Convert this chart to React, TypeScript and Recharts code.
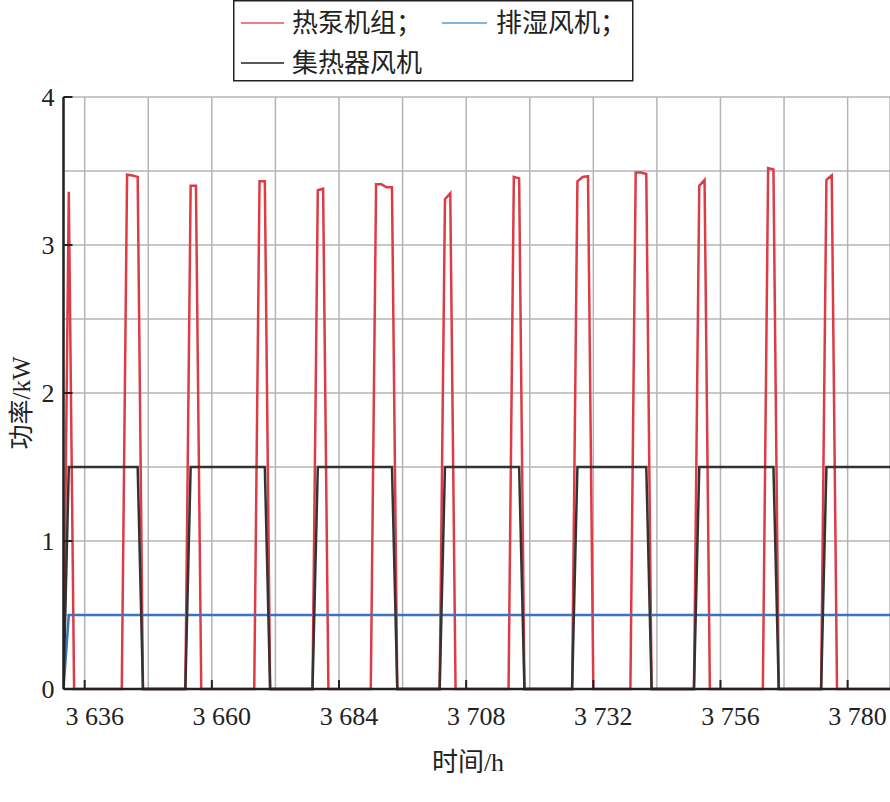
import React from 'react';
import { LineChart, Line, XAxis, YAxis, CartesianGrid, Legend } from 'recharts';

// 热泵机组 (heat pump), vertices
const pumpHours = [
  3632, 3633, 3634,
  3643, 3644, 3645, 3646, 3647,
  3655, 3656, 3657, 3658,
  3668, 3669, 3670, 3671,
  3679, 3680, 3681, 3682,
  3690, 3691, 3692, 3693, 3694, 3695,
  3703, 3704, 3705, 3706,
  3716, 3717, 3718, 3719,
  3728, 3729, 3730, 3731, 3732,
  3739, 3740, 3741, 3742, 3743,
  3751, 3752, 3753, 3754,
  3764, 3765, 3766, 3767,
  3775, 3776, 3777, 3778,
  3788,
];
const pumpKw = [
  0, 3.36, 0,
  0, 3.475, 3.47, 3.46, 0,
  0, 3.4, 3.4, 0,
  0, 3.43, 3.43, 0,
  0, 3.37, 3.38, 0,
  0, 3.41, 3.41, 3.39, 3.39, 0,
  0, 3.31, 3.35, 0,
  0, 3.46, 3.45, 0,
  0, 3.43, 3.46, 3.465, 0,
  0, 3.49, 3.49, 3.48, 0,
  0, 3.4, 3.44, 0,
  0, 3.52, 3.51, 0,
  0, 3.44, 3.47, 0,
  0,
];

// 排湿风机 (exhaust fan)
const exhaustHours = [3632, 3633, 3788];
const exhaustKw = [0, 0.5, 0.5];

// 集热器风机 (collector fan)
const collectorHours = [
  3632, 3633, 3646, 3647,
  3655, 3656, 3670, 3671,
  3679, 3680, 3694, 3695,
  3703, 3704, 3718, 3719,
  3728, 3729, 3742, 3743,
  3751, 3752, 3766, 3767,
  3775, 3776, 3788,
];
const collectorKw = [
  0, 1.5, 1.5, 0,
  0, 1.5, 1.5, 0,
  0, 1.5, 1.5, 0,
  0, 1.5, 1.5, 0,
  0, 1.5, 1.5, 0,
  0, 1.5, 1.5, 0,
  0, 1.5, 1.5,
];

const xTicks = [3636, 3648, 3660, 3672, 3684, 3696, 3708, 3720, 3732, 3744, 3756, 3768, 3780];
const xLabelled = [3636, 3660, 3684, 3708, 3732, 3756, 3780];
const yTicks = [0, 0.5, 1, 1.5, 2, 2.5, 3, 3.5, 4];
const yLabelled = [0, 1, 2, 3, 4];

const seriesNames = ['热泵机组；', '排湿风机；', '集热器风机'];
const seriesColors = ['#dc3c46', '#3f72b6', '#333333'];
const legendColors = ['#e0555c', '#5b9bd2', '#222222'];

const toRows = (hours: number[], kw: number[]) => hours.map((t, i) => ({ t, p: kw[i] }));
const pumpData = toRows(pumpHours, pumpKw);
const exhaustData = toRows(exhaustHours, exhaustKw);
const collectorData = toRows(collectorHours, collectorKw);

const serif = '"Liberation Serif", "DejaVu Serif", serif';
const cjk = '"Noto Sans CJK SC", sans-serif';

const fmt = (v: number) => {
  const s = String(v);
  return s.length > 3 ? s.slice(0, s.length - 3) + ' ' + s.slice(-3) : s;
};

const XTick = (props: any) => {
  const { x, y, payload } = props;
  if (!xLabelled.includes(payload.value)) return <g />;
  return (
    <g>
      <line x1={x} x2={x} y1={y} y2={y - 9} stroke="#222" strokeWidth={2} />
      <text x={x + 10} y={y + 36} textAnchor="middle" fontFamily={serif} fontSize={26} fill="#222">
        {fmt(payload.value)}
      </text>
    </g>
  );
};

const YTick = (props: any) => {
  const { x, y, payload } = props;
  if (!yLabelled.includes(payload.value)) return <g />;
  return (
    <g>
      <line x1={x} x2={x + 9} y1={y} y2={y} stroke="#222" strokeWidth={2} />
      <text x={x - 9} y={y + 9} textAnchor="end" fontFamily={serif} fontSize={26} fill="#222">
        {payload.value}
      </text>
    </g>
  );
};

const LegendBox = () => (
  <svg width={401} height={83} style={{ display: 'block' }}>
    <rect x={0.75} y={0.75} width={399} height={80} fill="#fff" stroke="#222" strokeWidth={1.5} />
    <line x1={8} x2={51} y1={23} y2={23} stroke={legendColors[0]} strokeWidth={1.5} />
    <text x={59} y={32} fontFamily={cjk} fontSize={26} fill="#222">{seriesNames[0]}</text>
    <line x1={209} x2={254} y1={23} y2={23} stroke={legendColors[1]} strokeWidth={1.5} />
    <text x={263} y={32} fontFamily={cjk} fontSize={26} fill="#222">{seriesNames[1]}</text>
    <line x1={8} x2={51} y1={63} y2={63} stroke={legendColors[2]} strokeWidth={1.5} />
    <text x={59} y={72} fontFamily={cjk} fontSize={26} fill="#222">{seriesNames[2]}</text>
  </svg>
);

export default function App() {
  return (
    <div style={{ position: 'absolute', left: 0, top: 0, background: '#fff' }}>
      <LineChart width={890} height={802} margin={{ top: 97, right: 0, bottom: 0, left: 0 }}>
        <CartesianGrid stroke="#b4b4b4" strokeWidth={1.5} />
        <XAxis
          type="number"
          dataKey="t"
          domain={[3632, 3788]}
          ticks={xTicks}
          interval={0}
          allowDataOverflow
          height={113}
          tickSize={0}
          tickMargin={0}
          tick={<XTick />}
          axisLine={{ stroke: '#222', strokeWidth: 2.5 }}
          label={{
            content: () => (
              <text x={468} y={771} textAnchor="middle" fontSize={26} fill="#222">
                <tspan fontFamily={cjk}>时间</tspan>
                <tspan fontFamily={serif}>/h</tspan>
              </text>
            ),
          }}
        />
        <YAxis
          type="number"
          domain={[0, 4]}
          ticks={yTicks}
          interval={0}
          width={63.5}
          tickSize={0}
          tickMargin={0}
          tick={<YTick />}
          axisLine={{ stroke: '#222', strokeWidth: 2.5 }}
          label={{
            content: () => (
              <text transform="translate(30,403) rotate(-90)" textAnchor="middle" fontSize={25} fill="#222">
                <tspan fontFamily={cjk}>功率</tspan>
                <tspan fontFamily={serif}>/kW</tspan>
              </text>
            ),
          }}
        />
        <Legend
          layout="horizontal"
          verticalAlign="middle"
          align="center"
          wrapperStyle={{ top: 0, left: 233, width: 401 }}
          content={() => <LegendBox />}
        />
        <Line data={pumpData} dataKey="p" name={seriesNames[0]} stroke={seriesColors[0]} strokeWidth={2.5} dot={false} isAnimationActive={false} />
        <Line data={exhaustData} dataKey="p" name={seriesNames[1]} stroke={seriesColors[1]} strokeWidth={2.5} dot={false} isAnimationActive={false} />
        <Line data={collectorData} dataKey="p" name={seriesNames[2]} stroke={seriesColors[2]} strokeWidth={2.5} dot={false} isAnimationActive={false} />
      </LineChart>
    </div>
  );
}
